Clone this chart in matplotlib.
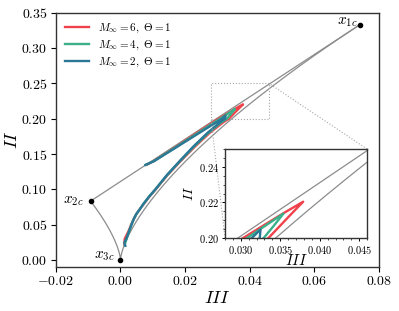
import numpy as np
import matplotlib
matplotlib.use('Agg')
import matplotlib.pyplot as plt
from mpl_toolkits.axes_grid1.inset_locator import mark_inset

plt.rcParams['font.family'] = 'serif'
plt.rcParams['font.serif'] = ['cmr10', 'DejaVu Serif']
plt.rcParams['mathtext.fontset'] = 'cm'
plt.rcParams['axes.formatter.use_mathtext'] = True
plt.rcParams['axes.unicode_minus'] = False

# invariant paths (III, II), lower branch up to the tip, then back along the upper branch
III_m6 = [0.0012, 0.0013, 0.0024, 0.0033, 0.0041, 0.0049, 0.0060, 0.0073, 0.0090, 0.0109, 0.0145,
          0.0186, 0.0229, 0.0276, 0.0318, 0.0335, 0.0350, 0.0365, 0.0379, 0.0355, 0.0330, 0.0303,
          0.0270, 0.0236, 0.0203, 0.0170, 0.0136, 0.0102, 0.0082]
II_m6 = [0.022, 0.030, 0.040, 0.050, 0.058, 0.065, 0.072, 0.080, 0.090, 0.100, 0.120,
         0.140, 0.160, 0.180, 0.195, 0.200, 0.207, 0.214, 0.2204, 0.2142, 0.2074, 0.200,
         0.1904, 0.180, 0.170, 0.160, 0.150, 0.140, 0.1350]

III_m4 = [0.0013, 0.0019, 0.0026, 0.0034, 0.0041, 0.0049, 0.0060, 0.0072, 0.0089, 0.0108, 0.0144,
          0.0184, 0.0226, 0.0272, 0.0312, 0.0329, 0.0342, 0.0354, 0.0332, 0.0308, 0.0275, 0.0240,
          0.0206, 0.0172, 0.0137, 0.0103, 0.0079]
II_m4 = [0.022, 0.030, 0.040, 0.050, 0.058, 0.065, 0.072, 0.080, 0.090, 0.100, 0.120,
         0.140, 0.160, 0.180, 0.195, 0.200, 0.207, 0.2137, 0.2072, 0.200, 0.1905, 0.180,
         0.170, 0.160, 0.150, 0.140, 0.1348]

III_m2 = [0.0015, 0.0012, 0.0018, 0.0026, 0.0034, 0.0041, 0.0049, 0.0060, 0.0072, 0.0089, 0.0108,
          0.0143, 0.0183, 0.0224, 0.0269, 0.0308, 0.0324, 0.0325, 0.0314, 0.0279, 0.0244, 0.0209,
          0.0174, 0.0139, 0.0104, 0.0077]
II_m2 = [0.020, 0.025, 0.030, 0.040, 0.050, 0.058, 0.065, 0.072, 0.080, 0.090, 0.100,
         0.120, 0.140, 0.160, 0.180, 0.195, 0.200, 0.2048, 0.200, 0.190, 0.180, 0.170,
         0.160, 0.150, 0.140, 0.1346]

labels = [r'$M_\infty=6,\ \Theta=1$', r'$M_\infty=4,\ \Theta=1$', r'$M_\infty=2,\ \Theta=1$']
colors = ['#f0424b', '#3bb08a', '#2a7896']
series = [(III_m6, II_m6), (III_m4, II_m4), (III_m2, II_m2)]

# triangle corners
corner_III = [2/27, -1/108, 0.0]
corner_II = [1/3, 1/12, 0.0]
corner_lab = [r'$x_{1c}$', r'$x_{2c}$', r'$x_{3c}$']
corner_off = [(-2, 2), (-5, 0), (-4, 3)]

# boundaries of the invariant map
lam = np.linspace(-1/3, 1/6, 400)
ax_III = -2 * lam**3
ax_II = 3 * lam**2
tc_III = np.linspace(-1/108, 2/27, 50)
tc_II = 1/9 + 3 * tc_III

fig = plt.figure(figsize=(3.99, 3.11), dpi=100)
ax = fig.add_axes([0.140, 0.1415, 0.810, 0.817])

def boundary(a):
    a.plot(ax_III, ax_II, color='0.55', lw=0.9, zorder=1)
    a.plot(tc_III, tc_II, color='0.55', lw=0.9, zorder=1)

boundary(ax)
for (x, y), c, l in zip(series, colors, labels):
    ax.plot(x, y, color=c, lw=1.7, label=l, zorder=2)
ax.plot(corner_III, corner_II, 'o', color='k', ms=3, zorder=3)
for x, y, t, o in zip(corner_III, corner_II, corner_lab, corner_off):
    ax.annotate(t, (x, y), xytext=o, textcoords='offset points', ha='right', va='center', fontsize=11)

ax.set_xlim(-0.02, 0.08)
ax.set_ylim(-0.01, 0.35)
ax.set_xticks([-0.02, 0.0, 0.02, 0.04, 0.06, 0.08])
ax.set_yticks(np.arange(0, 0.351, 0.05))
ax.set_xticklabels(['$-0.02$', '$0.00$', '$0.02$', '$0.04$', '$0.06$', '$0.08$'])
ax.set_yticklabels(['$%.2f$' % v for v in np.arange(0, 0.351, 0.05)])
ax.tick_params(labelsize=10, length=3.5, width=0.8, pad=2.5)
ax.set_xlabel(r'$III$', fontsize=13, labelpad=1)
ax.set_ylabel(r'$II$', fontsize=13, labelpad=1)
for s in ax.spines.values():
    s.set_linewidth(1.0)
    s.set_color('0.2')
ax.legend(loc='upper left', frameon=False, fontsize=8, handlelength=2.2,
          borderaxespad=0.4, labelspacing=0.3)

axins = fig.add_axes([0.564, 0.2347, 0.356, 0.286])
boundary(axins)
for (x, y), c in zip(series, colors):
    axins.plot(x, y, color=c, lw=1.7, zorder=2)
axins.set_xlim(0.028, 0.046)
axins.set_ylim(0.20, 0.25)
axins.set_xticks([0.030, 0.035, 0.040, 0.045])
axins.set_yticks([0.20, 0.22, 0.24])
axins.set_xticks(np.arange(0.028, 0.0461, 0.001), minor=True)
axins.set_yticks(np.arange(0.20, 0.2501, 0.005), minor=True)
axins.set_xticklabels(['$0.030$', '$0.035$', '$0.040$', '$0.045$'])
axins.set_yticklabels(['$0.20$', '$0.22$', '$0.24$'])
axins.tick_params(labelsize=7.5, length=2.5, width=0.7, pad=1.5)
axins.tick_params(which='minor', length=1.5, width=0.5)
axins.set_xlabel(r'$III$', fontsize=11, labelpad=-2)
axins.set_ylabel(r'$II$', fontsize=10, labelpad=2)
for s in axins.spines.values():
    s.set_linewidth(1.0)
    s.set_color('0.2')

mark_inset(ax, axins, loc1=1, loc2=3, fc='none', ec='0.65', ls=':', lw=0.8)

fig.savefig('out.png', dpi=100)
